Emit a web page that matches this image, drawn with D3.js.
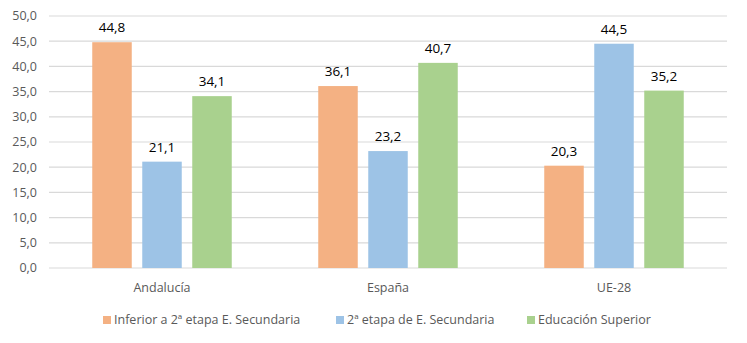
<!DOCTYPE html>
<html>
<head>
<meta charset="utf-8">
<script src="https://cdn.jsdelivr.net/npm/d3@7/dist/d3.min.js"></script>
<style>
  html, body { margin: 0; padding: 0; background: #fff; }
  svg text { font-family: "Open Sans", "Noto Sans", sans-serif; }
</style>
</head>
<body>
<svg id="chart" width="747" height="343"></svg>
<script>
const categories = ["Andalucía", "España", "UE-28"];
const seriesNames = ["Inferior a 2ª etapa E. Secundaria", "2ª etapa de E. Secundaria", "Educación Superior"];
const inferior = [44.8, 36.1, 20.3];
const segunda = [21.1, 23.2, 44.5];
const superior = [34.1, 40.7, 35.2];
const yTicks = [0, 5, 10, 15, 20, 25, 30, 35, 40, 45, 50];
const colors = ["#F4B183", "#9DC3E6", "#A9D18E"];

const seriesValues = [inferior, segunda, superior];
const fmt = v => v.toFixed(1).replace(".", ",");

const svg = d3.select("#chart");
const margin = { left: 49, right: 20, top: 16, bottom: 75 };
const W = 747, H = 343;

const y = d3.scaleLinear().domain([0, 50]).range([H - margin.bottom, margin.top]);
const x0 = d3.scaleBand().domain(categories).range([margin.left, W - margin.right]);
const x1 = d3.scaleBand().domain(d3.range(seriesNames.length))
  .range([0, x0.bandwidth()]).paddingInner(0.21).paddingOuter(0.865);

// horizontal gridlines
svg.append("g").selectAll("line").data(yTicks).join("line")
  .attr("x1", margin.left).attr("x2", W - margin.right)
  .attr("y1", d => y(d)).attr("y2", d => y(d))
  .attr("stroke", "#d9d9d9").attr("stroke-width", 1.2);

// y-axis labels
svg.append("g").selectAll("text").data(yTicks).join("text")
  .attr("x", 37).attr("y", d => y(d)).attr("dy", "0.35em")
  .attr("text-anchor", "end").attr("fill", "#595959").attr("font-size", 12.5)
  .text(d => fmt(d));

// bars and value labels
const groups = svg.append("g").selectAll("g").data(categories).join("g")
  .attr("transform", c => `translate(${x0(c)},0)`);

groups.each(function(c, ci) {
  const g = d3.select(this);
  seriesValues.forEach((vals, si) => {
    const v = vals[ci];
    g.append("rect")
      .attr("x", x1(si)).attr("width", x1.bandwidth())
      .attr("y", y(v)).attr("height", y(0) - y(v))
      .attr("fill", colors[si]);
    g.append("text")
      .attr("x", x1(si) + x1.bandwidth() / 2).attr("y", y(v) - 10)
      .attr("text-anchor", "middle").attr("fill", "#000").attr("font-size", 13.5)
      .text(fmt(v));
  });
});

// category labels
svg.append("g").selectAll("text").data(categories).join("text")
  .attr("x", c => x0(c) + x0.bandwidth() / 2).attr("y", 288).attr("dy", "0.35em")
  .attr("text-anchor", "middle").attr("fill", "#595959").attr("font-size", 12.5)
  .text(c => c);

// legend
const legendX = [103, 336, 527];
const legend = svg.append("g").selectAll("g").data(seriesNames).join("g")
  .attr("transform", (d, i) => `translate(${legendX[i]},320)`);
legend.append("rect").attr("x", 0).attr("y", -4).attr("width", 8).attr("height", 8)
  .attr("fill", (d, i) => colors[i]);
legend.append("text").attr("x", 11).attr("y", 0).attr("dy", "0.35em")
  .attr("fill", "#595959").attr("font-size", 12.5).text(d => d);
</script>
</body>
</html>
